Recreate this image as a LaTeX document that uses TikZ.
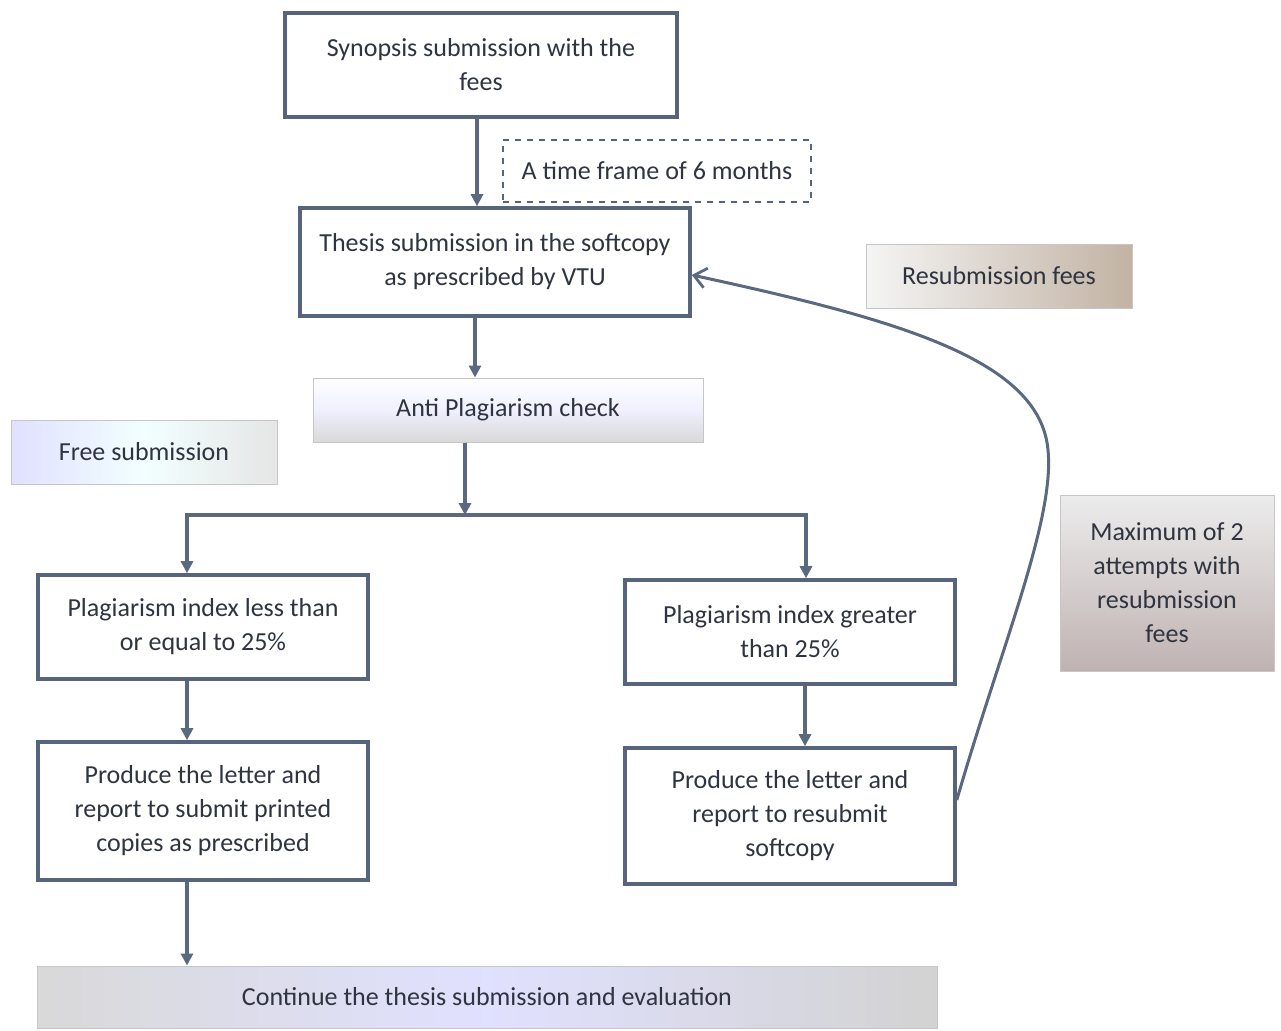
\documentclass[tikz,border=0pt]{standalone}
\usepackage{fontspec}
\setmainfont{Carlito}
\usetikzlibrary{arrows.meta}
\definecolor{boxc}{HTML}{56657C}
\definecolor{linec}{HTML}{5A6880}
\definecolor{txtc}{HTML}{2E3440}

\begin{document}
\begin{tikzpicture}[x=0.5pt, y=-0.5pt,
    every node/.style={font=\fontsize{13}{17}\selectfont, text=txtc, align=center, inner sep=0pt},
    box/.style={draw=boxc, line width=1.8pt, fill=white},
    tinted/.style={draw=gray!45, line width=0.5pt},
    flow/.style={draw=linec, line width=1.6pt, -{Triangle[length=6pt, width=6pt]}},
    back/.style={draw=linec, line width=1.5pt, -{Straight Barb[length=6pt, width=10pt, line width=1.4pt]}}]
  \useasboundingbox (0,0) rectangle (1281,1030);
  % main column
  \node [box, minimum width=196pt, minimum height=52pt] (syn) at (481,65)
    {Synopsis submission with the\\fees};
  \node [draw=boxc, dashed, line width=0.6pt, minimum width=154pt, minimum height=31pt] (time) at (657,171)
    {A time frame of 6 months};
  \node [box, minimum width=195pt, minimum height=54pt] (th) at (495,262)
    {Thesis submission in the softcopy\\as prescribed by VTU};
  \node [tinted, top color=white, bottom color=gray!30, middle color=blue!6,
    minimum width=195pt, minimum height=32pt] (anti) at (508,410) {Anti Plagiarism check};
  \node [tinted, left color=blue!12, right color=gray!20, middle color=cyan!5,
    minimum width=133pt, minimum height=32pt] (free) at (144,452) {Free submission};
  \node [tinted, left color=gray!8, right color=brown!40!gray!60,
    minimum width=133pt, minimum height=32pt] (fees) at (999,276) {Resubmission fees};
  \node [tinted, top color=gray!15, bottom color=red!10!gray!55,
    minimum width=107pt, minimum height=88pt] (max) at (1167,583)
    {Maximum of 2\\attempts with\\resubmission\\fees};
  % two branches
  \node [box, minimum width=165pt, minimum height=52pt] (low) at (203,627)
    {Plagiarism index less than\\or equal to 25\%};
  \node [box, minimum width=165pt, minimum height=52pt] (high) at (790,632)
    {Plagiarism index greater\\than 25\%};
  \node [box, minimum width=165pt, minimum height=69pt] (lp) at (203,811)
    {Produce the letter and\\report to submit printed\\copies as prescribed};
  \node [box, minimum width=165pt, minimum height=68pt] (rp) at (790,816)
    {Produce the letter and\\report to resubmit\\softcopy};
  \node [tinted, left color=gray!30, right color=gray!35, middle color=blue!12,
    minimum width=450pt, minimum height=31pt] (cont) at (487,997)
    {Continue the thesis submission and evaluation};
  \coordinate (split) at (465,515);
  % connectors
  \draw [flow] (syn.south -| 477,0) -- (th.north -| 477,0);
  \draw [flow] (th.south -| 475,0) -- (anti.north -| 475,0);
  \draw [flow] (anti.south -| split) -- (split);
  \draw [flow] (split) -| (low.north -| 187,0);
  \draw [flow] (split) -| (high.north -| 806,0);
  \draw [flow] (low.south -| 187,0) -- (lp.north -| 187,0);
  \draw [flow] (high.south -| 805,0) -- (rp.north -| 805,0);
  \draw [flow] (lp.south -| 187,0) -- (cont.north -| 187,0);
  \draw [back] (rp.east) ++(0,-16) .. controls (1000,650) and (1055,520) .. (1048,450)
    .. controls (1040,360) and (900,320) .. (th.east |- 0,275);
\end{tikzpicture}
\end{document}
